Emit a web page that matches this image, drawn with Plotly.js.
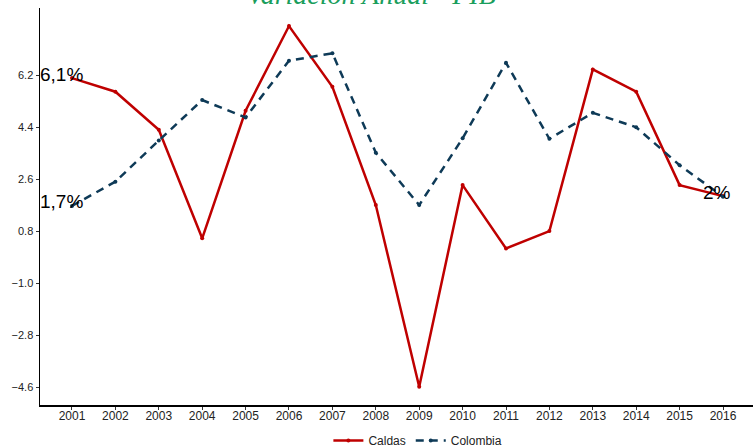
<!DOCTYPE html>
<html>
<head>
<meta charset="utf-8">
<script src="https://cdn.plot.ly/plotly-3.0.1.min.js"></script>
<style>html,body{margin:0;padding:0;background:#fff;}#chart{width:753px;height:448px;}</style>
</head>
<body>
<div id="chart"></div>
<script>
var years = [2001,2002,2003,2004,2005,2006,2007,2008,2009,2010,2011,2012,2013,2014,2015,2016];
var caldas = [6.1,5.63,4.31,0.56,4.97,7.9,5.8,1.71,-4.57,2.4,0.21,0.81,6.4,5.63,2.4,2.02];
var colombia = [1.68,2.52,3.94,5.34,4.74,6.7,6.96,3.52,1.71,4.02,6.63,4.0,4.9,4.4,3.09,2.0];
var yTickVals = [-4.6,-2.8,-1.0,0.8,2.6,4.4,6.2];
var yTickText = ["\u22124.6","\u22122.8","\u22121.0","0.8","2.6","4.4","6.2"];
var labelX = [2001, 2001, 2016];
var labelY = [6.1, 1.68, 2.02];
var labelText = ["6,1%", "1,7%", "2%"];
var labelShiftX = [-10, -10, -6];

var traces = [
  {x: years, y: caldas, name: 'Caldas', type: 'scatter', mode: 'lines+markers',
   line: {color: '#BF0000', width: 2.5}, marker: {color: '#BF0000', size: 4}},
  {x: years, y: colombia, name: 'Colombia', type: 'scatter', mode: 'lines+markers',
   line: {color: '#0E3A57', width: 2.5, dash: '8px,6px'}, marker: {color: '#0E3A57', size: 4}}
];

var annotations = labelText.map(function(t, i){
  return {x: labelX[i], y: labelY[i], text: t, showarrow: false, xref: 'x', yref: 'y',
          xshift: labelShiftX[i], yshift: 4, font: {family: 'Liberation Sans, Arial', size: 19, color: '#000'}};
});

var layout = {
  width: 753, height: 448,
  margin: {l: 40, r: 0, t: 8, b: 43, autoexpand: false},
  paper_bgcolor: '#fff', plot_bgcolor: '#fff',
  font: {family: 'Liberation Sans, Arial, sans-serif', color: '#222'},
  title: {text: 'Variación Anual - PIB', font: {family: 'Liberation Serif, Times New Roman, serif', size: 28, color: '#1A9E5C', style: 'italic'},
          x: 0.493, xanchor: 'center', y: 0.992, yref: 'container', yanchor: 'bottom', automargin: false},
  xaxis: {range: [2000.263, 2016.691], tickvals: years, ticktext: years.map(String), showgrid: false, zeroline: false,
          showline: true, linecolor: '#000', linewidth: 1.5, ticks: 'outside', ticklen: 3, tickcolor: '#333',
          ticklabelstandoff: -4,
          tickfont: {size: 12, color: '#222'}, fixedrange: true},
  yaxis: {range: [-5.204, 8.524], tickvals: yTickVals, ticktext: yTickText, showgrid: false, zeroline: false,
          showline: true, linecolor: '#000', linewidth: 1.5, ticks: 'outside', ticklen: 3, tickcolor: '#333',
          tickfont: {size: 11, color: '#222'}, fixedrange: true},
  showlegend: true,
  legend: {orientation: 'h', x: 0.53, xanchor: 'center', y: 0.049, yref: 'container', yanchor: 'top', font: {size: 12, color: '#222'},
           bgcolor: 'rgba(0,0,0,0)', itemwidth: 30, tracegroupgap: 0},
  annotations: annotations
};

Plotly.newPlot('chart', traces, layout, {displayModeBar: false, staticPlot: true});
</script>
</body>
</html>
